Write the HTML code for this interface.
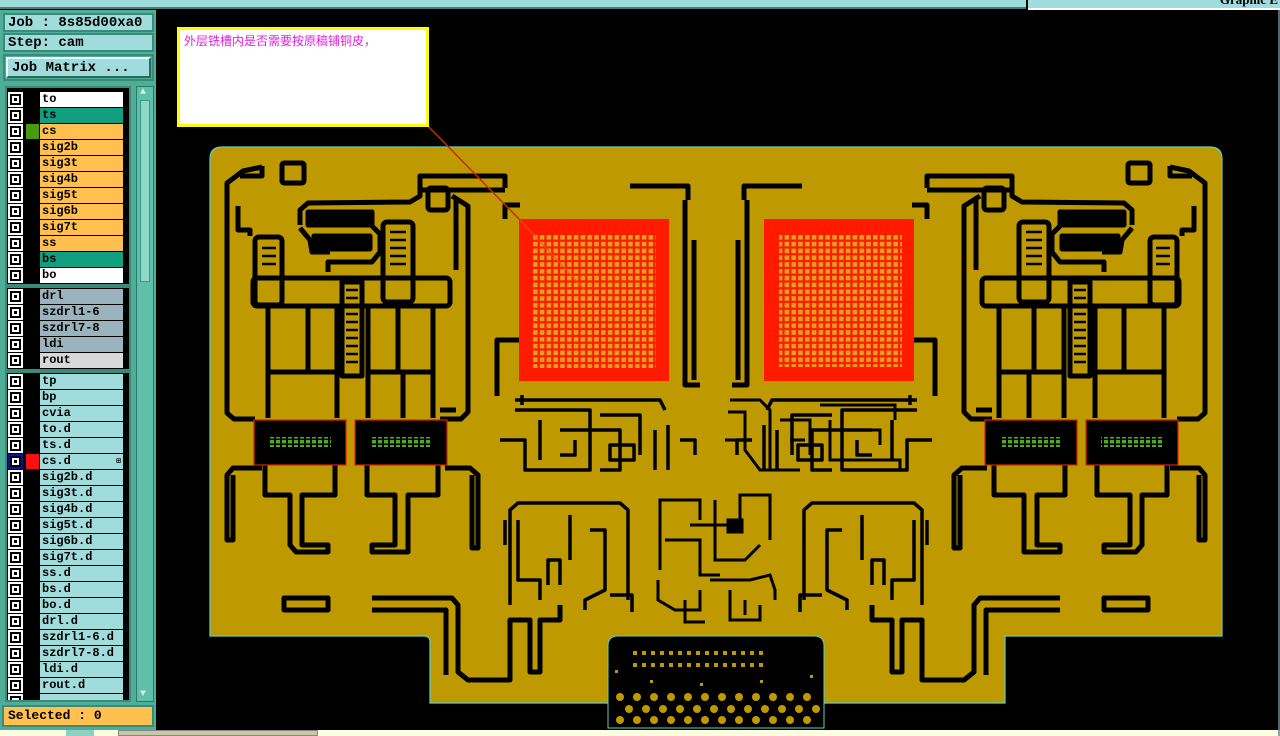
<!DOCTYPE html>
<html><head><meta charset="utf-8"><style>
*{margin:0;padding:0;box-sizing:border-box}
body{width:1280px;height:736px;background:#000;position:relative;overflow:hidden;font-family:"Liberation Mono",monospace;font-weight:bold;font-size:12px}
.a{position:absolute}
.hdr{background:#a0dcdc;border:2px solid #3a8a7a;color:#000;font-size:13px;padding-left:3px;line-height:14px}
.row{position:absolute;left:8px;width:116px;height:15px}
.cb{position:absolute;left:0;top:0;width:15px;height:15px;background:#000;border:2px solid #fff}
.cb{box-shadow:inset 0 0 0 2px #000, inset 0 0 0 4px #fff}
.nm{position:absolute;left:32px;top:0;width:83px;height:15px;line-height:15px;padding-left:2px;color:#000;font-size:12px}
</style></head><body>
<div class="a" style="left:0;top:0;width:1026px;height:9px;background:#a0dcdc;border-bottom:2px solid #4a7a7a"></div>
<div class="a" style="left:1028px;top:0;width:252px;height:10px;background:#a0dcdc;border-bottom:2px solid #fff;overflow:hidden"><span style="position:absolute;right:2px;top:-8px;font-family:'Liberation Serif',serif;font-size:13px">Graphic E</span></div>

<div class="a" style="left:0;top:10px;width:156px;height:720px;background:#4fae98"></div>
<div class="a hdr" style="left:3px;top:13px;width:151px;height:19px;font-size:14px;line-height:16px">Job : 8s85d00xa0</div>
<div class="a hdr" style="left:3px;top:33px;width:151px;height:19px;font-size:14px;line-height:16px">Step: cam</div>
<div class="a" style="left:3px;top:54px;width:151px;height:27px;border:2px solid #3a8a7a;background:#4fae98"></div>
<div class="a hdr" style="left:6px;top:57px;width:145px;height:21px;font-size:14px;line-height:18px;border-color:#eaffff #2a6a5a #2a6a5a #eaffff;padding-left:4px">Job Matrix ...</div>
<div class="a" style="left:5px;top:86px;width:126px;height:616px;background:#000;border:2px solid #3a8a7a"></div>
<div class="a" style="left:136px;top:86px;width:18px;height:616px;background:#5fbfa8;border:1px solid #2a7a6a"></div>
<div class="a" style="left:140px;top:100px;width:10px;height:182px;background:#8fd8c8;border:1px solid #3a9a8a"></div>
<div class="a" style="left:140px;top:88px;width:10px;height:11px;color:#cfeee8;font-size:10px;line-height:10px">▲</div>
<div class="a" style="left:140px;top:690px;width:10px;height:11px;color:#cfeee8;font-size:10px;line-height:10px">▼</div>

<div id="rows"></div>
<div class="a" style="left:5px;top:284px;width:126px;height:4px;background:#3a8a7a"></div>
<div class="a" style="left:5px;top:369px;width:126px;height:4px;background:#3a8a7a"></div>

<div class="a" style="left:2px;top:705px;width:152px;height:22px;background:#ffc050;border:2px solid #3a8a7a;font-size:13px;line-height:18px;padding-left:4px">Selected : 0</div>
<div class="a" style="left:0;top:730px;width:1280px;height:6px;background:#fffde0"></div>
<div class="a" style="left:118px;top:730px;width:200px;height:6px;background:#c8c8a8;border:1px solid #888"></div>
<div class="a" style="left:66px;top:730px;width:28px;height:6px;background:#8fd0c0"></div>

<svg class="a" style="left:0;top:0" width="1280" height="736" viewBox="0 0 1280 736">
<defs>
<pattern id="pads" x="533" y="235" width="6.8" height="6.8" patternUnits="userSpaceOnUse"><rect width="6.8" height="6.8" fill="#ff1a00"/><rect width="4.6" height="4.6" fill="#e0a020"/></pattern>
<pattern id="gp" x="0" y="0" width="6" height="5" patternUnits="userSpaceOnUse"><rect width="4" height="3.5" fill="#4caa20"/></pattern>
<g id="half" fill="none" stroke="#000" stroke-width="5" stroke-linejoin="round">
 <path d="M262,167 L243,171 L227,183 L227,413 L234,419 L255,419"/>
 <path d="M238,206 L238,230 L250,230 L250,236"/>
 <path d="M240,176 L262,176 L262,166"/>
 <rect x="282" y="163" width="22" height="20" rx="2"/>
 <path d="M300,225 L300,210 L308,203 L410,202 L420,196 L420,176 L505,176 L505,188"/>
 <path d="M420,190 L505,190"/>
 <rect x="308" y="212" width="64" height="13" fill="#000"/>
 <rect x="314" y="236" width="56" height="13" fill="#000"/>
 <path d="M300,228 L310,240 L312,252 L330,252"/>
 <path d="M372,226 L380,234 L380,252 L372,262 L328,262 L328,272"/>
 <rect x="255" y="237" width="27" height="68" rx="4"/>
 <rect x="253" y="278" width="197" height="28" rx="4"/>
 <rect x="342" y="282" width="20" height="94"/>
 <rect x="383" y="222" width="30" height="80" rx="4"/>
 <path d="M346,290 h12 M346,298 h12 M346,306 h12 M346,314 h12 M346,322 h12 M346,330 h12 M346,338 h12 M346,346 h12 M346,354 h12 M346,362 h12" stroke-width="2.5"/>
 <path d="M390,232 h16 M390,240 h16 M390,248 h16 M390,256 h16 M390,264 h16" stroke-width="2.5"/>
 <path d="M262,248 h14 M262,256 h14 M262,264 h14" stroke-width="2.5"/>
 <path d="M268,306 L268,372 M308,306 L308,372 M337,306 L337,372 M368,306 L368,372 M398,306 L398,372 M433,306 L433,372"/>
 <path d="M268,372 L337,372 M368,372 L433,372 L433,418 M268,372 L268,418 M337,372 L337,418 M368,372 L368,418 M403,372 L403,418"/>
 <path d="M452,196 L468,206 L468,412 L461,419 L440,419"/>
 <path d="M456,200 L456,270 M440,410 L456,410"/>
 <rect x="428" y="188" width="20" height="22" rx="3"/>
 <path d="M262,468 L233,468 L227,475 L227,540 L233,540 L233,475"/>
 <path d="M265,465 L265,495 L290,495 L290,545 L296,552 L328,552 L328,545 L302,545 L302,495 L335,495 L335,465"/>
 <path d="M367,465 L367,495 L395,495 L395,545 L372,545 L372,552 L408,552 L408,495 L438,495 L438,465"/>
 <path d="M445,468 L470,468 L478,475 L478,548 L472,548 L472,475"/>
 <rect x="284" y="598" width="44" height="12"/>
 <path d="M372,598 L452,598 L458,605 L458,672 L468,680 L510,680 L510,620 L530,620 L530,672 L540,672 L540,620 L560,620 L560,605"/>
 <path d="M372,610 L446,610 L446,675"/>
 <path d="M497,396 L497,340 L519,340"/>
 <path d="M505,219 L505,205 L520,205"/>
 <path d="M685,200 L685,385 L700,385"/>
 <path d="M694,240 L694,380"/>
 <path d="M630,186 L688,186 L688,200"/>
 <g stroke-width="3.5">
 <path d="M515,400 L660,400 L665,410 M515,410 L590,410 L590,470 L525,470 L525,440 L500,440"/>
 <path d="M540,420 L540,460 M560,430 L620,430 L620,470 L600,470 M600,415 L640,415 L640,455"/>
 <path d="M655,430 L655,470 M668,425 L668,470 M680,440 L695,440 L695,455"/>
 <rect x="610" y="445" width="24" height="15"/>
 <path d="M510,605 L510,510 L518,503 L620,503 L628,510 L628,600"/>
 <path d="M518,520 L518,580 L540,580 L540,600 M570,515 L570,560 M590,530 L605,530 L605,590 L585,600 L585,610"/>
 <path d="M548,585 L548,560 L560,560 L560,585"/>
 <path d="M610,595 L632,595 L632,612"/>
 <path d="M505,520 L505,545 M522,405 L522,395 M575,440 L575,455 L560,455"/>
 </g>
</g>
</defs>
<path d="M222,147 L1210,147 Q1222,147 1222,159 L1222,636 L1005,636 L1005,703 L430,703 L430,642 Q430,636 424,636 L210,636 L210,159 Q210,147 222,147 Z" fill="#bf9900" stroke="#5fd0c0" stroke-width="1.2"/>
<path d="M608,728 L608,646 Q608,636 618,636 L814,636 Q824,636 824,646 L824,728 Z" fill="#000" stroke="#5fd0c0" stroke-width="1"/>
<use href="#half"/>
<use href="#half" transform="translate(1432,0) scale(-1,1)"/>
<g fill="none" stroke="#000" stroke-width="3">
 <path d="M660,570 L660,500 L700,500 L700,520 M690,525 L740,525 L740,495 L770,495 L770,540 M665,540 L700,540 L700,575 L720,575 M715,500 L715,560 L745,560 L760,545"/>
 <path d="M658,580 L658,600 L675,610 L700,610 L700,590 M710,580 L750,580 L770,575 L775,590 L775,600 M730,590 L730,620 L760,620 L760,605"/>
 <rect x="728" y="520" width="14" height="12" fill="#000"/>
 <path d="M685,600 L685,622 L705,622 M745,600 L745,615"/>
 <path d="M730,400 L760,400 L770,410 L770,470 M728,412 L745,412 L745,450 L760,470 L800,470 M780,420 L810,420 L810,455 M820,405 L895,405 L895,420 M830,420 L830,460 L900,460 L900,470 M850,430 L880,430 L880,445"/>
 <path d="M725,440 L740,440 M790,440 L805,440"/>
</g>
<rect x="519" y="219" width="150" height="162" fill="#ff1a00"/>
<rect x="533" y="235" width="123" height="133" fill="url(#pads)"/>
<rect x="764" y="219" width="150" height="162" fill="#ff1a00"/>
<rect x="779" y="234" width="123" height="133" fill="url(#pads)"/>
<g stroke="#e02000" stroke-width="1.2" fill="#000">
 <rect x="254" y="420" width="92" height="45"/>
 <rect x="355" y="420" width="92" height="45"/>
 <rect x="985" y="420" width="92" height="45"/>
 <rect x="1086" y="420" width="92" height="45"/>
</g>
<g fill="url(#gp)">
 <rect x="269" y="437" width="62" height="10"/>
 <rect x="370" y="437" width="62" height="10"/>
 <rect x="1000" y="437" width="62" height="10"/>
 <rect x="1101" y="437" width="62" height="10"/>
</g>
<g fill="#bf9900">
 <g id="sq"><rect x="633" y="651" width="4" height="4"/><rect x="633" y="663" width="4" height="4"/></g>
 <use href="#sq" x="9"/><use href="#sq" x="18"/><use href="#sq" x="27"/><use href="#sq" x="36"/><use href="#sq" x="45"/><use href="#sq" x="54"/><use href="#sq" x="63"/><use href="#sq" x="72"/><use href="#sq" x="81"/><use href="#sq" x="90"/><use href="#sq" x="99"/><use href="#sq" x="108"/><use href="#sq" x="117"/><use href="#sq" x="126"/>
 <g id="cr"><circle cx="620" cy="697" r="4"/><circle cx="620" cy="720" r="4"/><circle cx="629" cy="709" r="4"/></g>
 <use href="#cr" x="17"/><use href="#cr" x="34"/><use href="#cr" x="51"/><use href="#cr" x="68"/><use href="#cr" x="85"/><use href="#cr" x="102"/><use href="#cr" x="119"/><use href="#cr" x="136"/><use href="#cr" x="153"/><use href="#cr" x="170"/><use href="#cr" x="187"/>
 <rect x="650" y="680" width="3" height="3"/><rect x="700" y="683" width="3" height="3"/><rect x="760" y="680" width="3" height="3"/><rect x="810" y="675" width="3" height="3"/><rect x="615" y="670" width="3" height="3"/>
</g>
<line x1="428" y1="126" x2="520" y2="220" stroke="#c03000" stroke-width="1.5"/>
<line x1="520" y1="220" x2="585" y2="290" stroke="#ff5020" stroke-width="1.5" opacity="0.7"/>
<rect x="178.5" y="28.5" width="249" height="97" fill="#fff" stroke="#ffff00" stroke-width="3"/>
<text x="184" y="45" fill="#e020e0" font-size="12" font-family="'Liberation Sans','Noto Sans CJK SC',sans-serif" font-weight="normal">外层铣槽内是否需要按原稿铺铜皮，</text>
<line x1="1279" y1="10" x2="1279" y2="736" stroke="#6a8a8a" stroke-width="1.5"/>
</svg>
<script>
var rows=[["to","#fff"],["ts","#10a080"],["cs","#ffc050"],["sig2b","#ffc050"],["sig3t","#ffc050"],["sig4b","#ffc050"],["sig5t","#ffc050"],["sig6b","#ffc050"],["sig7t","#ffc050"],["ss","#ffc050"],["bs","#10a080"],["bo","#fff"],
null,["drl","#9ab3bd"],["szdrl1-6","#9ab3bd"],["szdrl7-8","#9ab3bd"],["ldi","#9ab3bd"],["rout","#d8d8d8"],
null,["tp","#a0dcdc"],["bp","#a0dcdc"],["cvia","#a0dcdc"],["to.d","#a0dcdc"],["ts.d","#a0dcdc"],["cs.d","#a0dcdc"],["sig2b.d","#a0dcdc"],["sig3t.d","#a0dcdc"],["sig4b.d","#a0dcdc"],["sig5t.d","#a0dcdc"],["sig6b.d","#a0dcdc"],["sig7t.d","#a0dcdc"],["ss.d","#a0dcdc"],["bs.d","#a0dcdc"],["bo.d","#a0dcdc"],["drl.d","#a0dcdc"],["szdrl1-6.d","#a0dcdc"],["szdrl7-8.d","#a0dcdc"],["ldi.d","#a0dcdc"],["rout.d","#a0dcdc"]];
var h="",y=92;
rows.forEach(function(r){if(!r){y+=5;return;}
var ex="";if(r[0]=="cs")ex='<div style="position:absolute;left:18px;top:0;width:13px;height:15px;background:#4a9a10"></div>';
if(r[0]=="cs.d")ex='<div style="position:absolute;left:18px;top:0;width:13px;height:15px;background:#ff1010"></div>';
var cb=r[0]=="cs.d"?'style="border-color:#1010a0;background:#000"':'';
h+='<div class="row" style="top:'+y+'px"><div class="cb" '+cb+'></div>'+ex+'<div class="nm" style="background:'+r[1]+'">'+r[0]+(r[0]=="cs.d"?'<span style="position:absolute;right:2px;font-size:8px">⊞</span>':'')+'</div></div>';
y+=16;});
h+='<div class="row" style="top:'+y+'px;height:6px;overflow:hidden"><div class="cb"></div><div class="nm" style="background:#a0dcdc"></div></div>';
document.getElementById("rows").innerHTML=h;
</script>
</body></html>
